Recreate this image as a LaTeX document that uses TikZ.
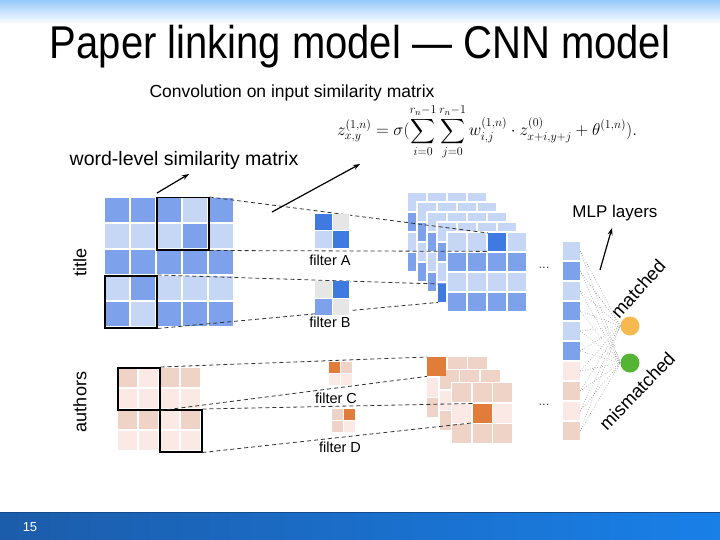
\documentclass[tikz,border=0pt]{standalone}
\usepackage{fontspec}
\setmainfont{Liberation Sans}
\usepackage{amsmath}
\usepackage{graphicx}
\usetikzlibrary{arrows.meta,positioning,calc}
\definecolor{tbD}{RGB}{125,162,235}
\definecolor{tbL}{RGB}{198,214,245}
\definecolor{tbX}{RGB}{62,122,224}
\definecolor{tgr}{RGB}{230,230,230}
\definecolor{tpM}{RGB}{240,211,199}
\definecolor{tpL}{RGB}{250,233,228}
\definecolor{tpX}{RGB}{226,124,58}
\definecolor{goldc}{RGB}{245,185,80}
\definecolor{greenc}{RGB}{84,180,52}
\definecolor{bannerB}{RGB}{150,200,250}
\definecolor{barL}{RGB}{28,92,170}
\definecolor{barM}{RGB}{48,145,222}
\definecolor{barR}{RGB}{25,128,232}

\begin{document}
\begin{tikzpicture}[x=1pt, y=-1pt,
  selbox/.style={draw=black, line width=1.5pt, inner sep=0pt, anchor=north west,
    minimum width=52pt, minimum height=52pt},
  smallbox/.style={selbox, minimum width=42pt, minimum height=42pt},
  hitcell/.style={inner sep=0pt, anchor=north west, minimum size=#1},
  guide/.style={draw=black!80, line width=0.8pt, dash pattern=on 4pt off 3pt},
  lbl/.style={font=\fontsize{14.5}{16}\selectfont},
  sidelbl/.style={font=\fontsize{18}{20}\selectfont, rotate=90},
  mlpcell/.style={inner sep=0pt, minimum width=17pt, minimum height=18pt},
  outnode/.style={circle, inner sep=0pt, minimum size=19pt},
  dotline/.style={black!55, line width=0.5pt, dotted},
  pointer/.style={-{Stealth[length=7pt,width=5pt]}, line width=1.2pt}
]
  \useasboundingbox (0,0) rectangle (720,540);

  % Slide banner and footer
  \shade[top color=bannerB, bottom color=white] (0,0) rectangle (720,24);
  \shade[left color=barL, middle color=barM, right color=barR] (0,512) rectangle (720,540);
  \draw[barL!80!black, line width=1pt] (0,512) -- (720,512);
  \node[text=white, font=\fontsize{13}{14}\selectfont] (pgnum) at (30,527) {15};

  % Titles
  \node[font=\fontsize{40}{44}\selectfont] (title) at (360,47)
    {\scalebox{1}[1.15]{Paper linking model — CNN model}};
  \node[font=\fontsize{17.5}{19}\selectfont] (convlbl) at (292,93)
    {Convolution on input similarity matrix};
  \node[font=\fontsize{19.5}{21}\selectfont] (wordlbl) at (184,160)
    {word-level similarity matrix};
  \node[inner sep=0pt] (formula) at (487,132) {\fontsize{18.5}{21}\selectfont
    $\displaystyle z^{(1,n)}_{x,y} = \sigma(\sum_{i=0}^{r_n-1}\sum_{j=0}^{r_n-1}
    w^{(1,n)}_{i,j}\cdot z^{(0)}_{x+i,y+j} + \theta^{(1,n)}).$};

  % Title similarity matrix
  \foreach \rowlist [count=\r from 0] in
      {{D,D,D,L,D},{L,L,L,D,L},{D,D,D,D,D},{L,D,L,L,L},{D,L,D,D,D}}
    \foreach \c [count=\k from 0] in \rowlist
      \fill[tb\c] ({105+26*\k},{198+26*\r}) rectangle ++(24,24);
  \node[sidelbl] (titlelbl) at (80,262) {title};

  % Authors similarity matrix
  \foreach \rowlist [count=\r from 0] in {{M,L,M,M},{L,L,L,L},{M,M,L,M},{L,L,L,L}}
    \foreach \c [count=\k from 0] in \rowlist
      \fill[tp\c] ({118+21*\k},{368+21*\r}) rectangle ++(19,19);
  \node[sidelbl] (authlbl) at (80,402) {authors};

  % Blue feature maps
  \foreach \k in {0,...,3}{
    \fill[white] ({406+10*\k},{191+10*\k}) rectangle ++(82,82);
    \foreach \r/\rc in {0/tbL,1/tbD,2/tbL,3/tbD}
      \foreach \c in {0,...,3}
        \fill[\rc] ({408+10*\k+20*\c},{193+10*\k+20*\r}) rectangle ++(18,18);
  }
  \node[hitcell=18pt, fill=tbX] (hitB) at (438,284) {};
  \fill[white] (446,231) rectangle ++(82,82);
  \foreach \r/\rc in {0/tbL,1/tbD,2/tbL,3/tbD}
    \foreach \c in {0,...,3}
      \fill[\rc] ({448+20*\c},{233+20*\r}) rectangle ++(18,18);
  \node[hitcell=18pt, fill=tbX] (hitA) at (488,233) {};

  % Orange feature maps
  \foreach \k/\ca/\cb/\cc in {0/tpM/tpL/tpM,1/tpM/tpL/tpM}{
    \fill[white] ({425.5+12.5*\k},{355.5+13*\k}) rectangle ++(64.5,64.5);
    \foreach \r/\rc in {0/\ca,1/\cb,2/\cc}
      \foreach \c in {0,...,2}
        \fill[\rc] ({427+12.5*\k+20.5*\c},{357+13*\k+20.5*\r}) rectangle ++(19,19);
  }
  \fill[white] (450.5,381.5) rectangle ++(64.5,64.5);
  \foreach \r/\rc in {0/tpM,1/tpL,2/tpM}
    \foreach \c in {0,...,2}
      \fill[\rc] ({452+20.5*\c},{383+20.5*\r}) rectangle ++(19,19);
  \node[hitcell=19pt, fill=tpX] (hitD) at (472.5,403.5) {};
  \node[hitcell=19pt, fill=tpX] (hitC) at (427,357) {};
  \node[font=\fontsize{13}{14}\selectfont, text=black!70] (moreA) at (544,268) {...};
  \node[font=\fontsize{13}{14}\selectfont, text=black!70] (moreB) at (544,405) {...};

  % Receptive field boxes
  \node[selbox] (boxA) at (156,197) {};
  \node[selbox] (boxB) at (104,275) {};
  \node[smallbox] (boxC) at (117,367) {};
  \node[smallbox] (boxD) at (159,409) {};

  % Dashed guides to the feature maps
  \draw[guide] (boxA.north east) -- (hitA.north west);
  \draw[guide] (boxA.south east) -- (hitA.south west);
  \draw[guide] (boxB.north east) -- (hitB.north west);
  \draw[guide] (boxB.south east) -- (hitB.south west);
  \draw[guide] (boxC.north east) -- (hitC.north west);
  \draw[guide] (boxC.south east) -- (hitC.south west);
  \draw[guide] (boxD.north east) -- (hitD.north west);
  \draw[guide] (boxD.south east) -- (hitD.south west);

  % Filters
  \fill[white] (315,214) rectangle (350,248);
  \foreach \c/\dx/\dy in {tbX/0/0,tgr/17.5/0,tbL/0/17.5,tbX/17.5/17.5}
    \fill[\c] ({315+\dx},{214+\dy}) rectangle ++(16.5,16.5);
  \node[lbl] (filtA) at (330,260) {filter A};
  \fill[white] (315,281) rectangle (350,315);
  \foreach \c/\dx/\dy in {tgr/0/0,tbX/17.5/0,tbD/0/17.5,tgr/17.5/17.5}
    \fill[\c] ({315+\dx},{281+\dy}) rectangle ++(16.5,16.5);
  \node[lbl] (filtB) at (330,322) {filter B};
  \fill[white] (329,362) rectangle (353,385);
  \foreach \c/\dx/\dy in {tpX/0/0,tpM/12/0,tpL/0/12,tpL/12/12}
    \fill[\c] ({329+\dx},{362+\dy}) rectangle ++(11,11);
  \node[lbl] (filtC) at (336,398) {filter C};
  \fill[white] (332,409) rectangle (356,432);
  \foreach \c/\dx/\dy in {tpM/0/0,tpX/12/0,tpM/0/12,tpL/12/12}
    \fill[\c] ({332+\dx},{409+\dy}) rectangle ++(11,11);
  \node[lbl] (filtD) at (340,447) {filter D};

  % MLP layers
  \foreach \col [count=\i] in {tbL,tbD,tbL,tbD,tbL,tbD,tpL,tpM,tpL,tpM}
    \node[mlpcell, fill=\col] (m\i) at (571.5,{251+20*(\i-1)}) {};
  \node[outnode, fill=goldc] (yes) at (630,326) {};
  \node[outnode, fill=greenc] (no) at (630,363) {};
  \foreach \i in {1,...,10}{
    \draw[dotline] (m\i.east) -- (yes.west);
    \draw[dotline] (m\i.east) -- (no.west);
  }
  \node[font=\fontsize{18.5}{20}\selectfont, rotate=48] (yeslbl) at (638,289) {matched};
  \node[font=\fontsize{18.5}{20}\selectfont, rotate=46] (nolbl) at (637,391) {mismatched};
  \node[font=\fontsize{17}{19}\selectfont] (mlplbl) at (615,213) {MLP layers};

  % Pointer arrows
  \coordinate (wlTail) at (157,193);
  \coordinate (wlTip) at (189,174);
  \coordinate (cvTail) at (272,212);
  \coordinate (cvTip) at (360,164);
  \coordinate (mlpTail) at (600,270);
  \coordinate (mlpTip) at (612,228);
  \draw[pointer] (wlTail) -- (wlTip);
  \draw[pointer] (cvTail) -- (cvTip);
  \draw[pointer] (mlpTail) -- (mlpTip);
\end{tikzpicture}
\end{document}
